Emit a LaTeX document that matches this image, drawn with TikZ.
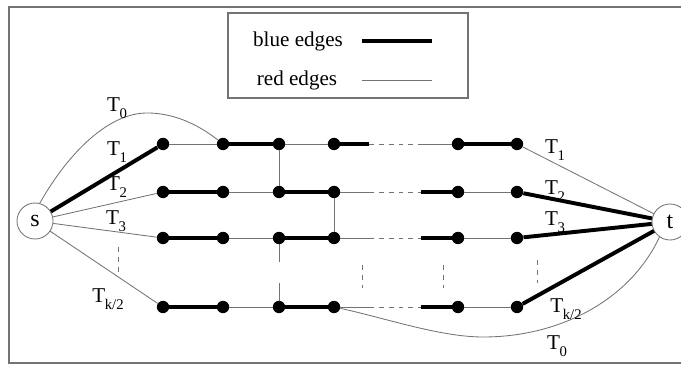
\documentclass[tikz,border=0pt]{standalone}
\usepackage{fontspec}
\setmainfont{Liberation Serif}
\newcommand{\Tpath}[1]{T\kern-0.02em\raisebox{-0.36em}{\fontsize{10.5}{10.5}\selectfont #1}}

\begin{document}
\begin{tikzpicture}[x=0.025cm, y=-0.025cm,
    dot/.style={circle, fill, inner sep=0pt, minimum size=0.31cm},
    term/.style={circle, draw=black!55, line width=0.6pt, fill=white, inner sep=0pt,
      minimum size=0.9cm, font=\fontsize{17}{17}\selectfont},
    blueedge/.style={line width=2.8pt},
    rededge/.style={draw=black!55, line width=0.6pt},
    gap/.style={rededge, dash pattern=on 3.5pt off 3.5pt},
    lab/.style={font=\fontsize{15}{17}\selectfont, inner sep=0pt}]
  \useasboundingbox (0,0) rectangle (681,365);
  \draw[black!55, line width=1pt] (9,7) rectangle (700,363);

  % legend
  \draw[black!55, line width=0.8pt] (228,13) rectangle (468,98);
  \node[lab] (blue) at (298,41) {blue edges};
  \node[lab] (red) at (297,80) {red edges};
  \coordinate (bl1) at (362,41); \coordinate (bl2) at (432,41);
  \coordinate (rl1) at (362,80); \coordinate (rl2) at (432,80);
  \draw[blueedge] (bl1) -- (bl2);
  \draw[rededge] (rl1) -- (rl2);

  % terminals
  \node[term] (s) at (35,221) {s};
  \node[term] (t) at (670,222) {t};

  % the k/2 paths
  \foreach \r/\y in {1/144, 2/192, 3/238, 4/307} {
    \node[dot] (a\r) at (163,\y) {};
    \node[dot] (b\r) at (223,\y) {};
    \node[dot] (c\r) at (279,\y) {};
    \node[dot] (d\r) at (334,\y) {};
    \node[dot] (e\r) at (458,\y) {};
    \node[dot] (f\r) at (517,\y) {};
    \coordinate (p\r) at (369,\y);
    \coordinate (q\r) at (421,\y);
    \draw[gap] (p\r) -- (q\r);
  }

  \draw[rededge] (a1) -- (b1) (c1) -- (d1) (q1) -- (e1);
  \draw[blueedge] (b1) -- (c1) (d1) -- (p1) (e1) -- (f1);
  \foreach \r in {2,3,4} {
    \draw[blueedge] (a\r) -- (b\r) (c\r) -- (d\r) (q\r) -- (e\r);
    \draw[rededge] (b\r) -- (c\r) (d\r) -- (p\r) (e\r) -- (f\r);
  }

  % cross links
  \coordinate (g1) at (279,262);
  \coordinate (g2) at (279,283);
  \draw[rededge] (c1) -- (c2) (d2) -- (d3) (c3) -- (g1) (g2) -- (c4);

  % omitted paths
  \draw[gap] (118,247) -- (118,272);
  \draw[gap] (362,265) -- (362,288);
  \draw[gap] (443,265) -- (443,288);
  \draw[gap] (537,260) -- (537,283);

  % to s and t
  \draw[blueedge] (s) -- (a1);
  \draw[rededge] (s) -- (a2) (s) -- (a3) (s) -- (a4);
  \draw[rededge] (f1) -- (t);
  \draw[blueedge] (f2) -- (t) (f3) -- (t) (f4) -- (t);

  % T0
  \draw[rededge] (s.75) .. controls (70,150) and (110,113) .. (147,113)
    .. controls (180,113) and (205,130) .. (b1);
  \draw[rededge] (d4) .. controls (385,318) and (440,337) .. (483,337)
    .. controls (560,337) and (630,300) .. (t.235);

  % labels
  \node[lab] (l0) at (117,108) {\Tpath{0}};
  \node[lab] (l1) at (117,152) {\Tpath{1}};
  \node[lab] (l2) at (117,187) {\Tpath{2}};
  \node[lab] (l3) at (116,221) {\Tpath{3}};
  \node[lab] (lk) at (108,299) {\Tpath{k/2}};
  \node[lab] (r1) at (555,150) {\Tpath{1}};
  \node[lab] (r2) at (555,191) {\Tpath{2}};
  \node[lab] (r3) at (555,222) {\Tpath{3}};
  \node[lab] (rk) at (566,309) {\Tpath{k/2}};
  \node[lab] (r0) at (557,346) {\Tpath{0}};
\end{tikzpicture}
\end{document}
